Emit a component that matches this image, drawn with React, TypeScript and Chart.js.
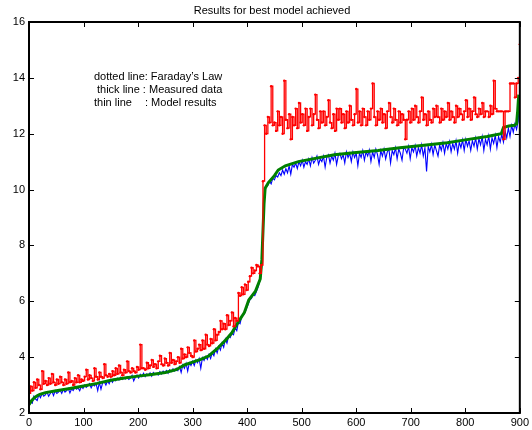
import React, { useEffect, useRef } from 'react';
import { Chart, registerables } from 'chart.js';
Chart.register(...registerables);

const chartTitle = 'Results for best model achieved';
const noteLines = ['dotted line: Faraday’s Law', 'thick line : Measured data', 'thin line', ': Model results'];

const sampleX = [
  0, 3, 6, 9, 12, 15, 18, 21, 24, 27,
  30, 33, 36, 39, 42, 45, 48, 51, 54, 57,
  60, 63, 66, 69, 72, 75, 78, 81, 84, 87,
  90, 93, 96, 99, 102, 105, 108, 111, 114, 117,
  120, 123, 126, 129, 132, 135, 138, 141, 144, 147,
  150, 153, 156, 159, 162, 165, 168, 171, 174, 177,
  180, 183, 186, 189, 192, 195, 198, 201, 204, 207,
  210, 213, 216, 219, 222, 225, 228, 231, 234, 237,
  240, 243, 246, 249, 252, 255, 258, 261, 264, 267,
  270, 273, 276, 279, 282, 285, 288, 291, 294, 297,
  300, 303, 306, 309, 312, 315, 318, 321, 324, 327,
  330, 333, 336, 339, 342, 345, 348, 351, 354, 357,
  360, 363, 366, 369, 372, 375, 378, 381, 384, 387,
  390, 393, 396, 399, 402, 405, 408, 411, 414, 417,
  420, 423, 426, 429, 432, 435, 438, 441, 444, 447,
  450, 453, 456, 459, 462, 465, 468, 471, 474, 477,
  480, 483, 486, 489, 492, 495, 498, 501, 504, 507,
  510, 513, 516, 519, 522, 525, 528, 531, 534, 537,
  540, 543, 546, 549, 552, 555, 558, 561, 564, 567,
  570, 573, 576, 579, 582, 585, 588, 591, 594, 597,
  600, 603, 606, 609, 612, 615, 618, 621, 624, 627,
  630, 633, 636, 639, 642, 645, 648, 651, 654, 657,
  660, 663, 666, 669, 672, 675, 678, 681, 684, 687,
  690, 693, 696, 699, 702, 705, 708, 711, 714, 717,
  720, 723, 726, 729, 732, 735, 738, 741, 744, 747,
  750, 753, 756, 759, 762, 765, 768, 771, 774, 777,
  780, 783, 786, 789, 792, 795, 798, 801, 804, 807,
  810, 813, 816, 819, 822, 825, 828, 831, 834, 837,
  840, 843, 846, 849, 852, 855, 858, 861, 864, 867,
  870, 873, 876, 879, 882, 885, 888, 891, 894, 897,
  900,
];

const faradayLaw = [
  2.7, 2.95, 2.8, 3.1, 2.9, 3.2, 3.0, 2.85, 3.5, 3.05,
  3.15, 3.0, 3.25, 3.05, 3.4, 3.1, 3.0, 3.2, 3.05, 3.3,
  3.1, 3.0, 3.2, 3.05, 3.45, 3.1, 3.15, 3.0, 3.25, 3.1,
  3.35, 3.1, 3.2, 3.15, 3.3, 3.55, 3.2, 3.35, 3.25, 3.15,
  3.6, 3.3, 3.2, 3.45, 3.3, 3.25, 3.75, 3.35, 3.3, 3.4,
  3.3, 3.5, 3.35, 3.6, 3.4, 3.7, 3.45, 3.35, 3.55, 3.45,
  3.85, 3.5, 3.45, 3.6, 3.5, 3.45, 3.65, 3.55, 4.45, 3.6,
  3.6, 3.55, 3.8, 3.6, 3.7, 3.9, 3.65, 3.75, 3.6, 3.85,
  4.05, 3.75, 3.7, 3.95, 3.8, 3.7, 4.15, 3.8, 3.9, 3.75,
  3.85, 4.0, 3.8, 4.3, 3.95, 4.1, 4.0, 4.35, 4.15, 4.05,
  4.0, 4.6, 4.2, 4.3, 4.45, 4.25, 4.6, 4.3, 4.8, 4.45,
  4.4, 4.65, 4.5, 5.0, 4.6, 4.8, 4.9, 5.3, 5.0, 5.2,
  5.0, 5.5, 5.15, 5.3, 5.6, 5.1, 5.4, 5.3, 6.3, 6.2,
  6.5, 6.25, 6.6, 6.4, 6.7, 6.9, 7.2, 7.0, 7.1, 7.3,
  7.25, 7.0, 7.3, 10.3, 12.3, 12.0, 12.6, 12.4, 13.7, 12.3,
  12.4, 12.1, 12.8, 12.3, 12.6, 12.0, 13.9, 12.5, 12.2, 12.7,
  11.8, 12.6, 12.3, 12.9, 12.2, 13.1, 12.4, 12.7, 12.3, 12.9,
  12.1, 12.6, 12.9, 12.3, 12.7, 13.4, 12.5, 12.2, 12.8, 12.4,
  12.8, 12.3, 12.6, 13.2, 12.4, 12.2, 12.7, 12.1, 12.9, 12.5,
  12.9, 12.4, 12.7, 12.2, 12.8, 12.4, 13.0, 12.5, 12.3, 12.7,
  13.6, 12.4, 12.8, 12.3, 12.9, 12.6, 12.3, 12.8, 12.5, 12.9,
  13.8, 12.6, 12.3, 12.8, 12.5, 12.9, 12.4, 12.7, 12.2, 12.8,
  13.1, 12.6, 12.4, 12.9, 12.5, 12.3, 12.8, 12.4, 12.7, 12.5,
  11.8, 12.5, 12.8, 12.4, 12.9, 12.5, 13.0, 12.6, 12.4, 12.8,
  13.3, 12.5, 12.7, 12.3, 12.8, 12.5, 12.4, 12.9, 12.6, 13.0,
  12.6, 12.4, 12.9, 12.5, 12.8, 12.6, 13.1, 12.5, 12.8, 12.6,
  12.4, 13.0, 12.6, 12.9, 12.7, 12.5, 12.8, 13.2, 12.6, 12.9,
  12.5, 12.8, 13.3, 12.7, 12.6, 12.9, 12.7, 13.1, 12.6, 12.8,
  12.8, 12.6, 13.0, 12.7, 13.9, 12.9, 12.8, 12.8, 12.8, 12.8,
  11.8, 12.8, 12.8, 12.8, 13.8, 13.8, 13.8, 13.3, 13.8, 14.0,
  15.2,
];

const modelResults = [
  2.25, 2.4, 2.35, 2.6, 2.5, 2.45, 2.65, 2.55, 2.7, 2.6,
  2.65, 2.75, 2.6, 2.7, 2.78, 2.62, 2.8, 2.7, 2.75, 2.82,
  2.7, 2.85, 2.75, 2.8, 2.88, 2.72, 2.86, 2.8, 2.93, 2.85,
  2.9, 2.8, 2.95, 2.88, 3.0, 2.92, 2.98, 3.05, 2.9, 3.02,
  2.97, 3.05, 2.8, 3.1, 2.85, 3.08, 3.12, 3.0, 3.15, 3.05,
  3.2, 3.1, 3.22, 3.15, 3.25, 3.18, 3.28, 3.2, 3.25, 3.22,
  3.3, 3.2, 3.25, 3.35, 3.15, 3.28, 3.36, 3.25, 3.38, 3.3,
  3.42, 3.3, 3.4, 3.35, 3.44, 3.32, 3.45, 3.38, 3.42, 3.36,
  3.48, 3.4, 3.5, 3.45, 3.52, 3.42, 3.55, 3.48, 3.58, 3.5,
  3.6, 3.52, 3.66, 3.45, 3.72, 3.6, 3.78, 3.5, 3.8, 3.7,
  3.85, 3.7, 3.9, 3.8, 3.95, 3.6, 3.98, 3.88, 4.02, 3.92,
  4.1, 3.95, 4.15, 4.05, 4.3, 4.15, 4.38, 4.25, 4.5, 4.35,
  4.65, 4.5, 4.75, 4.7, 4.85, 4.8, 5.05, 4.95, 5.25, 5.2,
  5.45, 5.5, 5.6, 5.75, 5.9, 6.05, 6.1, 6.25, 6.2, 6.35,
  6.5, 6.7, 7.0, 8.4, 9.9, 10.1, 10.15, 10.3, 10.2, 10.4,
  10.35, 10.5, 10.45, 10.6, 10.5, 10.7, 10.55, 10.75, 10.6, 10.85,
  10.55, 10.9, 10.8, 10.95, 10.75, 11.0, 10.85, 11.05, 10.8, 11.0,
  10.9, 11.1, 10.85, 11.15, 10.95, 11.05, 11.2, 10.9, 11.1, 11.0,
  11.2, 10.8, 11.15, 11.25, 10.95, 11.2, 11.05, 11.3, 10.9, 11.2,
  11.3, 11.1, 11.25, 10.95, 11.35, 11.15, 11.3, 11.0, 11.35, 11.15,
  11.3, 10.85, 11.3, 11.15, 11.4, 11.05, 11.35, 11.2, 11.42, 11.0,
  11.35, 11.15, 11.45, 11.25, 10.9, 11.4, 11.2, 11.45, 11.1, 11.35,
  11.45, 10.95, 11.4, 11.25, 11.5, 11.1, 11.45, 11.3, 11.05, 11.5,
  11.45, 11.3, 11.55, 11.1, 11.5, 11.35, 11.58, 11.2, 11.5, 11.3,
  11.6, 11.2, 11.5, 10.65, 11.55, 11.35, 11.62, 11.25, 11.6, 11.4,
  11.2, 11.6, 11.4, 11.68, 11.3, 11.65, 11.45, 11.72, 11.35, 11.65,
  11.45, 11.75, 11.3, 11.7, 11.5, 11.78, 11.4, 11.8, 11.55, 11.75,
  11.4, 11.75, 11.55, 11.85, 11.45, 11.82, 11.6, 11.9, 11.4, 11.8,
  11.6, 11.92, 11.45, 11.85, 11.65, 11.95, 11.5, 11.9, 11.7, 11.98,
  11.7, 12.1, 11.85, 12.2, 11.9, 12.3, 12.05, 12.35, 12.15, 12.45,
  13.6,
];

const measuredX = [
  0, 5, 10, 15, 20, 30, 50, 75, 100, 125, 150, 175, 200, 225, 250, 270, 285, 300, 315, 330,
  345, 360, 372, 385, 395, 403, 415, 424, 427, 429, 431, 433, 439, 450, 457, 470, 494, 520, 560, 600,
  640, 680, 720, 767, 800, 840, 866, 870, 880, 890, 894, 896, 898,
];
const measuredData = [
  2.3, 2.45, 2.55, 2.62, 2.67, 2.73, 2.8, 2.88, 2.97, 3.06, 3.17, 3.25, 3.32, 3.38, 3.45, 3.55, 3.72, 3.82, 3.92, 4.05,
  4.3, 4.6, 4.87, 5.3, 5.6, 6.05, 6.35, 6.8, 7.5, 8.5, 9.5, 10.05, 10.25, 10.5, 10.7, 10.85, 11.0, 11.1, 11.25, 11.33,
  11.4, 11.5, 11.58, 11.68, 11.78, 11.9, 12.0, 12.22, 12.28, 12.3, 12.35, 12.8, 13.4,
];

const xTicks = [0, 100, 200, 300, 400, 500, 600, 700, 800, 900];
const yTicks = [2, 4, 6, 8, 10, 12, 14, 16];

const FONT = '"Liberation Sans", Arial, Helvetica, sans-serif';

const framePlugin = {
  id: 'frame',
  afterDraw(chart: any) {
    const { ctx, chartArea: a, scales } = chart;
    const x = scales.x;
    const y = scales.y;
    ctx.save();
    ctx.strokeStyle = '#000';
    ctx.lineWidth = 1;
    ctx.beginPath();
    xTicks.forEach((v) => {
      const px = Math.round(x.getPixelForValue(v)) + 0.5;
      ctx.moveTo(px, a.bottom);
      ctx.lineTo(px, a.bottom - 5);
      ctx.moveTo(px, a.top);
      ctx.lineTo(px, a.top + 5);
    });
    yTicks.forEach((v) => {
      const py = Math.round(y.getPixelForValue(v)) + 0.5;
      ctx.moveTo(a.left, py);
      ctx.lineTo(a.left + 5, py);
      ctx.moveTo(a.right, py);
      ctx.lineTo(a.right - 5, py);
    });
    ctx.stroke();
    ctx.lineWidth = 2;
    ctx.strokeRect(a.left, a.top, a.right - a.left, a.bottom - a.top);

    ctx.fillStyle = '#000';
    ctx.font = '11px ' + FONT;
    ctx.textBaseline = 'middle';
    ctx.textAlign = 'center';
    ctx.fillText(chartTitle, 272, 11);
    ctx.textAlign = 'left';
    ctx.fillText(noteLines[0], 94, 77);
    ctx.fillText(noteLines[1], 97, 90);
    ctx.fillText(noteLines[2], 94, 103);
    ctx.fillText(noteLines[3], 145, 103);
    ctx.restore();
  },
};

export default function App() {
  const ref = useRef<HTMLCanvasElement | null>(null);
  useEffect(() => {
    if (!ref.current) return;
    const chart = new Chart(ref.current, {
      type: 'line',
      data: {
        datasets: [
          {
            label: 'Faraday’s Law',
            data: sampleX.map((v, i) => ({ x: v, y: faradayLaw[i] })),
            borderColor: '#ff0000',
            backgroundColor: '#ff0000',
            borderWidth: 1.3,
            pointRadius: 1.2,
            pointBorderWidth: 0,
            stepped: true,
            order: 1,
          },
          {
            label: 'Measured data',
            data: measuredX.map((v, i) => ({ x: v, y: measuredData[i] })),
            borderColor: '#008000',
            borderWidth: 3,
            pointRadius: 0,
            order: 2,
          },
          {
            label: 'Model results',
            data: sampleX.map((v, i) => ({ x: v, y: modelResults[i] })),
            borderColor: '#0000ff',
            borderWidth: 1.1,
            pointRadius: 0,
            order: 3,
          },
        ],
      },
      options: {
        animation: false,
        responsive: false,
        devicePixelRatio: 1,
        layout: { padding: { top: 22, right: 9, left: 0, bottom: 0 } },
        plugins: { legend: { display: false }, title: { display: false }, tooltip: { enabled: false } },
        scales: {
          x: {
            type: 'linear',
            min: 0,
            max: 900,
            afterBuildTicks: (s: any) => { s.ticks = xTicks.map((v) => ({ value: v })); },
            afterFit: (s: any) => { s.height = 17; },
            ticks: { color: '#000', font: { size: 11, family: FONT }, padding: 3, maxRotation: 0, autoSkip: false },
            grid: { display: false, drawTicks: false },
            border: { display: false },
          },
          y: {
            type: 'linear',
            min: 2,
            max: 16,
            afterBuildTicks: (s: any) => { s.ticks = yTicks.map((v) => ({ value: v })); },
            afterFit: (s: any) => { s.width = 29; },
            ticks: { color: '#000', font: { size: 11, family: FONT }, padding: 4 },
            grid: { display: false, drawTicks: false },
            border: { display: false },
          },
        },
      },
      plugins: [framePlugin],
    });
    return () => chart.destroy();
  }, []);
  return (
    <div style={{ position: 'fixed', left: 0, top: 0, width: 532, height: 430, background: '#fff' }}>
      <canvas ref={ref} width={532} height={430} style={{ width: 532, height: 430, display: 'block' }} />
    </div>
  );
}
